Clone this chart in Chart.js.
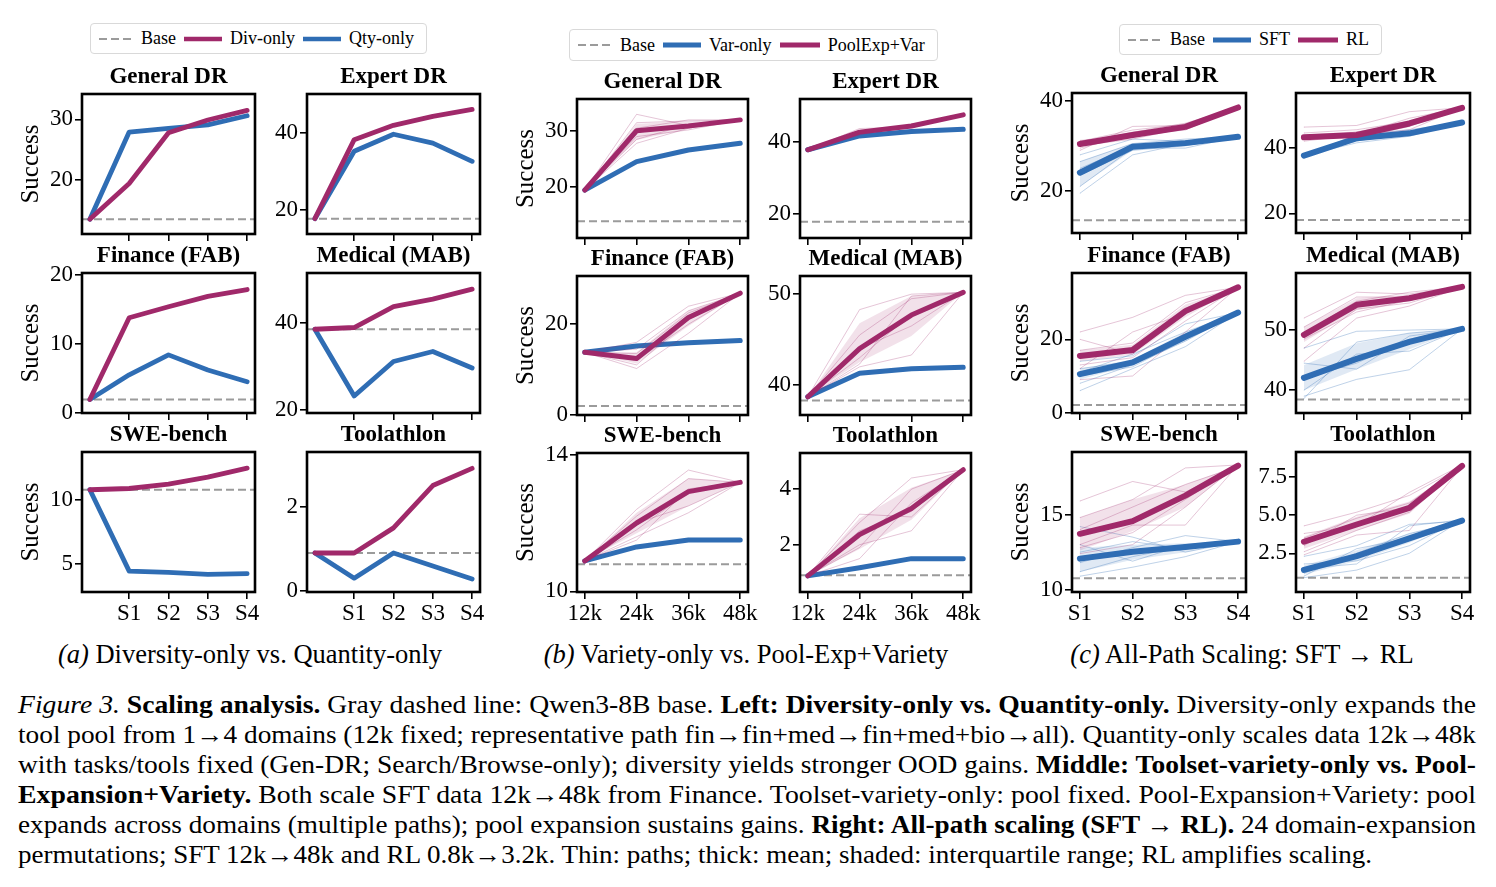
<!DOCTYPE html>
<html>
<head>
<meta charset="utf-8">
<script src="https://cdn.jsdelivr.net/npm/chart.js@4.4.1/dist/chart.umd.min.js"></script>
<style>
  body { margin: 0; background: #fff; }
  #fig { position: relative; width: 1496px; height: 887px; overflow: hidden; font-family: 'Liberation Serif', 'Times New Roman', serif; color: #000; }
  #fig canvas { position: absolute; }
  .legend { position: absolute; display: flex; align-items: center; background: #fff; border: 1px solid #d9d9d9; border-radius: 4px; font-size: 18px; padding: 0 6px; box-sizing: border-box; white-space: nowrap; }
  .legend svg { margin: 0 8px 0 2px; }
  .legend span { margin-right: 6px; }
  .sub { position: absolute; font-size: 26.5px; transform: translateX(-50%); white-space: nowrap; }
  .cap { position: absolute; left: 18px; font-size: 25px; line-height: 30px; white-space: nowrap; transform-origin: 0 0; }
</style>
</head>
<body>
<div id="fig">
  <div class="legend" style="left:90px;top:23px;height:31px">
    <svg width="34" height="8"><line x1="0" y1="4" x2="34" y2="4" stroke="#9b9b9b" stroke-width="2" stroke-dasharray="8 4"/></svg><span>Base</span>
    <svg width="38" height="8"><line x1="0" y1="4" x2="38" y2="4" stroke="#a0296a" stroke-width="4.5"/></svg><span>Div-only</span>
    <svg width="38" height="8"><line x1="0" y1="4" x2="38" y2="4" stroke="#2f6db4" stroke-width="4.5"/></svg><span>Qty-only</span>
  </div>
  <div class="legend" style="left:569px;top:29px;height:32px">
    <svg width="34" height="8"><line x1="0" y1="4" x2="34" y2="4" stroke="#9b9b9b" stroke-width="2" stroke-dasharray="8 4"/></svg><span>Base</span>
    <svg width="38" height="8"><line x1="0" y1="4" x2="38" y2="4" stroke="#2f6db4" stroke-width="5"/></svg><span>Var-only</span>
    <svg width="40" height="8"><line x1="0" y1="4" x2="40" y2="4" stroke="#a0296a" stroke-width="5"/></svg><span>PoolExp+Var</span>
  </div>
  <div class="legend" style="left:1119px;top:24px;height:31px">
    <svg width="34" height="8"><line x1="0" y1="4" x2="34" y2="4" stroke="#9b9b9b" stroke-width="2" stroke-dasharray="8 4"/></svg><span>Base</span>
    <svg width="38" height="8"><line x1="0" y1="4" x2="38" y2="4" stroke="#2f6db4" stroke-width="5"/></svg><span>SFT</span>
    <svg width="40" height="8"><line x1="0" y1="4" x2="40" y2="4" stroke="#a0296a" stroke-width="5"/></svg><span>RL</span>
  </div>

  <div class="sub" style="left:250px;top:639px"><i>(a)</i> Diversity-only vs. Quantity-only</div>
  <div class="sub" style="left:746px;top:639px"><i>(b)</i> Variety-only vs. Pool-Exp+Variety</div>
  <div class="sub" style="left:1242px;top:639px"><i>(c)</i> All-Path Scaling: SFT &rarr; RL</div>

  <div class="cap" data-w="1458" style="top:690px"><i>Figure 3.</i> <b>Scaling analysis.</b> Gray dashed line: Qwen3-8B base. <b>Left: Diversity-only vs. Quantity-only.</b> Diversity-only expands the</div>
  <div class="cap" data-w="1458" style="top:720px">tool pool from 1&rarr;4 domains (12k fixed; representative path fin&rarr;fin+med&rarr;fin+med+bio&rarr;all). Quantity-only scales data 12k&rarr;48k</div>
  <div class="cap" data-w="1458" style="top:750px">with tasks/tools fixed (Gen-DR; Search/Browse-only); diversity yields stronger OOD gains. <b>Middle: Toolset-variety-only vs. Pool-</b></div>
  <div class="cap" data-w="1458" style="top:780px"><b>Expansion+Variety.</b> Both scale SFT data 12k&rarr;48k from Finance. Toolset-variety-only: pool fixed. Pool-Expansion+Variety: pool</div>
  <div class="cap" data-w="1458" style="top:810px">expands across domains (multiple paths); pool expansion sustains gains. <b>Right: All-path scaling (SFT &rarr; RL).</b> 24 domain-expansion</div>
  <div class="cap" data-w="1354" style="top:840px">permutations; SFT 12k&rarr;48k and RL 0.8k&rarr;3.2k. Thin: paths; thick: mean; shaded: interquartile range; RL amplifies scaling.</div>
</div>

<script>
'use strict'

// ---- data ----
const panelTitles = ['General DR', 'Expert DR', 'Finance (FAB)', 'Medical (MAB)', 'SWE-bench', 'Toolathlon'];
const stepLabels = ['S1', 'S2', 'S3', 'S4'];
const sizeLabels = ['12k', '24k', '36k', '48k'];

// (a) diversity-only vs quantity-only, first point = base model
const aBase = [13.5, 17.8, 1.9, 38.5, 10.8, 0.9];
const aDivOnly = [
  [13.5, 19.4, 27.8, 29.9, 31.5],
  [17.8, 38.2, 41.9, 44.2, 46.0],
  [1.9, 13.8, 15.4, 16.9, 17.9],
  [38.5, 38.9, 43.7, 45.4, 47.7],
  [10.8, 10.9, 11.25, 11.8, 12.5],
  [0.9, 0.9, 1.5, 2.51, 2.92]
];
const aQtyOnly = [
  [13.5, 27.9, 28.5, 29.1, 30.6],
  [17.8, 35.2, 39.6, 37.3, 32.6],
  [1.9, 5.5, 8.4, 6.2, 4.5],
  [38.5, 23.2, 31.1, 33.4, 29.6],
  [10.8, 4.4, 4.3, 4.15, 4.2],
  [0.9, 0.3, 0.9, 0.59, 0.28]
];
const aYTicks = [[20, 30], [20, 40], [0, 10, 20], [20, 40], [5, 10], [0, 2]];

// (b) variety-only vs pool expansion + variety
const bBase = [13.8, 17.9, 1.9, 38.3, 10.79, 0.9];
const bVarOnly = [
  [19.4, 24.5, 26.6, 27.8],
  [37.9, 41.75, 42.95, 43.6],
  [13.8, 15.2, 15.9, 16.4],
  [38.7, 41.3, 41.8, 41.95],
  [10.89, 11.3, 11.5, 11.5],
  [0.88, 1.17, 1.5, 1.5]
];
const bPoolMean = [
  [19.4, 30.05, 30.9, 32.0],
  [37.9, 42.8, 44.5, 47.6],
  [13.8, 12.4, 21.5, 26.9],
  [38.7, 44.0, 47.7, 50.2],
  [10.89, 12.0, 12.92, 13.19],
  [0.88, 2.37, 3.3, 4.7]
];
const bPoolLo = [
  [19.4, 28.4, 30.4, 32.0],
  [37.9, 42.3, 44.1, 47.6],
  [13.8, 11.3, 19.6, 26.9],
  [38.7, 42.5, 45.4, 50.2],
  [10.89, 11.7, 12.5, 13.19],
  [0.88, 1.85, 2.9, 4.7]
];
const bPoolHi = [
  [19.4, 31.3, 31.7, 32.0],
  [37.9, 43.4, 44.9, 47.6],
  [13.8, 13.8, 23.0, 26.9],
  [38.7, 46.8, 49.8, 50.2],
  [10.89, 12.3, 13.3, 13.19],
  [0.88, 2.95, 4.05, 4.7]
];
const bPoolPaths = [
  [[19.4, 33.0, 31.0, 32.0], [19.4, 31.5, 31.8, 32.0], [19.4, 30.5, 32.0, 32.0], [19.4, 29.0, 30.2, 32.0], [19.4, 27.8, 30.5, 32.0], [19.4, 28.5, 31.2, 32.0]],
  [[37.9, 43.8, 44.2, 47.6], [37.9, 42.0, 45.0, 47.6], [37.9, 43.0, 44.8, 47.6], [37.9, 42.5, 44.0, 47.6]],
  [[13.8, 16.0, 24.0, 26.9], [13.8, 13.5, 22.5, 26.9], [13.8, 12.0, 20.0, 26.9], [13.8, 10.2, 18.0, 26.9], [13.8, 11.0, 21.0, 26.9], [13.8, 14.5, 23.0, 26.9]],
  [[38.7, 48.3, 50.0, 50.2], [38.7, 45.5, 49.5, 50.2], [38.7, 42.3, 49.8, 50.2], [38.7, 42.0, 43.3, 50.2], [38.7, 44.0, 46.5, 50.2], [38.7, 43.0, 47.8, 50.2]],
  [[10.89, 12.4, 13.55, 13.19], [10.89, 12.2, 13.3, 13.19], [10.89, 11.8, 12.9, 13.19], [10.89, 11.6, 12.3, 13.19], [10.89, 12.0, 12.5, 13.19], [10.89, 11.5, 13.0, 13.19]],
  [[0.88, 3.1, 3.0, 4.7], [0.88, 2.8, 4.4, 4.7], [0.88, 1.5, 3.5, 4.7], [0.88, 2.0, 2.5, 4.7], [0.88, 2.5, 3.2, 4.7], [0.88, 1.9, 4.0, 4.7]]
];
const bYTicks = [[20, 30], [20, 40], [0, 20], [40, 50], [10, 14], [2, 4]];

// (c) all-path scaling, SFT -> RL
const cBase = [13.5, 17.95, 2.1, 38.45, 10.77, 0.9];
const cSftMean = [
  [24.05, 29.8, 30.6, 32.0],
  [37.6, 42.9, 44.4, 47.7],
  [10.5, 13.7, 20.7, 27.3],
  [42.05, 45.2, 48.05, 50.2],
  [12.07, 12.53, 12.84, 13.2],
  [1.41, 2.32, 3.48, 4.65]
];
const cRlMean = [
  [30.4, 32.4, 34.2, 38.5],
  [43.2, 43.9, 47.4, 52.2],
  [15.45, 17.1, 27.7, 34.2],
  [49.2, 54.2, 55.3, 57.2],
  [13.72, 14.56, 16.26, 18.26],
  [3.26, 4.39, 5.48, 8.24]
];
const cSftLo = [
  [21.0, 29.0, 30.0, 32.0],
  [37.6, 42.3, 44.0, 47.7],
  [9.0, 13.0, 19.5, 27.3],
  [40.0, 43.5, 46.8, 50.2],
  [11.2, 12.0, 12.5, 13.2],
  [1.1, 2.0, 3.2, 4.65]
];
const cSftHi = [
  [26.5, 30.6, 31.2, 32.0],
  [37.6, 43.5, 45.0, 47.7],
  [12.0, 14.5, 22.0, 27.3],
  [44.2, 47.8, 49.5, 50.2],
  [12.8, 13.0, 13.1, 13.2],
  [1.7, 2.7, 3.8, 4.65]
];
const cRlLo = [
  [29.8, 31.8, 33.8, 38.5],
  [42.7, 43.5, 46.5, 52.2],
  [14.0, 15.8, 26.0, 34.2],
  [48.0, 53.3, 54.8, 57.2],
  [12.6, 13.9, 15.5, 18.26],
  [2.8, 4.0, 5.1, 8.24]
];
const cRlHi = [
  [31.0, 33.2, 34.6, 38.5],
  [44.0, 45.0, 48.5, 52.2],
  [17.0, 18.5, 29.5, 34.2],
  [50.5, 55.3, 55.9, 57.2],
  [14.8, 16.0, 17.0, 18.26],
  [3.6, 4.9, 5.9, 8.24]
];
const cSftPaths = [
  [[19.5, 28.0, 30.5, 32.0], [21.0, 29.5, 29.5, 32.0], [26.5, 30.5, 31.5, 32.0], [28.0, 31.5, 31.0, 32.0], [23.5, 29.0, 30.0, 32.0], [25.0, 30.0, 31.2, 32.0]],
  [[37.6, 41.5, 43.5, 47.7], [37.6, 44.0, 45.5, 47.7], [37.6, 42.5, 44.8, 47.7], [37.6, 43.5, 44.0, 47.7], [37.6, 42.0, 45.0, 47.7], [37.6, 43.2, 43.8, 47.7]],
  [[6.0, 12.0, 18.0, 27.3], [14.0, 15.5, 24.2, 27.3], [12.0, 14.0, 21.5, 27.3], [8.0, 13.0, 19.5, 27.3], [11.0, 16.0, 22.0, 27.3], [10.0, 12.5, 20.0, 27.3]],
  [[47.0, 49.8, 50.0, 50.2], [39.0, 41.8, 43.4, 50.2], [38.6, 48.0, 49.5, 50.2], [44.5, 43.5, 49.0, 50.2], [40.0, 46.0, 46.5, 50.2], [42.0, 44.5, 48.5, 50.2]],
  [[14.2, 13.5, 12.5, 13.2], [10.9, 11.5, 12.2, 13.2], [11.8, 12.8, 13.6, 13.2], [13.0, 11.9, 13.0, 13.2], [11.2, 12.2, 12.9, 13.2], [12.5, 13.2, 12.7, 13.2]],
  [[2.3, 3.0, 4.4, 4.6], [0.9, 1.4, 2.5, 4.7], [1.2, 2.5, 3.8, 4.6], [1.8, 2.0, 3.0, 4.7], [1.0, 2.8, 3.5, 4.6], [1.5, 1.8, 4.3, 4.7]]
];
const cRlPaths = [
  [[29.0, 34.3, 34.5, 38.5], [30.5, 33.0, 35.0, 38.5], [31.2, 32.0, 33.8, 38.5], [30.0, 31.5, 34.0, 38.5], [29.5, 32.5, 33.5, 38.5], [31.0, 33.5, 34.8, 38.5]],
  [[46.3, 46.8, 51.0, 52.2], [42.0, 44.0, 49.0, 52.2], [43.5, 43.0, 46.5, 52.2], [44.5, 45.5, 48.0, 52.2], [42.5, 43.5, 45.5, 52.2], [43.0, 44.8, 47.5, 52.2]],
  [[22.0, 26.0, 32.0, 34.2], [9.0, 10.0, 22.0, 34.2], [17.0, 19.0, 30.0, 34.2], [13.0, 15.0, 25.0, 34.2], [20.0, 16.0, 28.5, 34.2], [12.0, 22.0, 27.0, 34.2]],
  [[52.0, 56.3, 56.0, 57.2], [44.8, 52.0, 54.0, 57.2], [50.5, 55.5, 55.5, 57.2], [47.0, 53.5, 54.5, 57.2], [49.5, 54.8, 56.3, 57.2], [48.5, 53.0, 55.0, 57.2]],
  [[15.9, 17.2, 16.5, 18.2], [12.4, 13.0, 15.5, 18.3], [14.8, 16.0, 18.1, 18.3], [13.0, 14.3, 14.3, 18.3], [14.0, 15.5, 17.0, 18.2], [12.8, 13.8, 16.0, 18.3]],
  [[4.3, 5.2, 6.3, 8.2], [2.4, 3.7, 4.0, 8.2], [3.5, 4.8, 5.8, 8.3], [2.6, 4.0, 5.2, 8.2], [3.8, 4.3, 6.5, 8.3], [3.0, 5.0, 5.5, 8.2]]
];
const cYTicks = [[20, 40], [20, 40], [0, 20], [40, 50], [10, 15], [2.5, 5, 7.5]];

// ---- axis limits and layout ----
const aYRange = [[11.05, 34.2], [13.84, 50], [-0.05, 20.3], [19.3, 51.4], [2.76, 13.77], [-0.03, 3.31]];
const bYRange = [[10.8, 35.75], [13.4, 52.0], [-0.1, 30.7], [36.7, 52.0], [9.98, 14.05], [0.3, 5.3]];
const cYRange = [[10.7, 41.7], [14.0, 56.7], [-0.1, 38.1], [36.2, 59.5], [9.85, 19.16], [-0.04, 9.15]];

const BLUE = '#2f6db4';
const MAGENTA = '#a0296a';
const GRAY = '#9b9b9b';
const BLUE_THIN = 'rgba(47,109,180,0.35)';
const MAG_THIN = 'rgba(160,41,106,0.3)';
const BLUE_FILL = 'rgba(47,109,180,0.15)';
const MAG_FILL = 'rgba(160,41,106,0.14)';
const FONT = "'Liberation Serif', 'Times New Roman', serif";

const TICK_SIZE = 23, TITLE_SIZE = 23;
const YW = 70, PR = 20, XH = 40, TP = 3.4, TITLE_H = TITLE_SIZE * 1.2 + TP;

const framePlugin = {
  id: 'frame',
  afterDatasetsDraw(chart) {
    const { ctx, chartArea } = chart;
    ctx.save();
    ctx.strokeStyle = '#000';
    ctx.lineWidth = 2.6;
    ctx.strokeRect(chartArea.left, chartArea.top, chartArea.right - chartArea.left, chartArea.bottom - chartArea.top);
    ctx.restore();
  }
};

const line = (xs, ys, color, width, extra) => Object.assign({
  data: xs.map((x, i) => ({ x: x, y: ys[i] })),
  borderColor: color,
  borderWidth: width,
  pointRadius: 0,
  fill: false,
  borderJoinStyle: 'round',
  borderCapStyle: 'round'
}, extra || {});

const baseLine = (xMin, xMax, v) => line([xMin, xMax], [v, v], GRAY, 2, { borderDash: [8, 4], borderCapStyle: 'butt' });

const band = (xs, lo, hi, fillColor) => [
  line(xs, lo, 'rgba(0,0,0,0)', 0),
  line(xs, hi, 'rgba(0,0,0,0)', 0, { fill: '-1', backgroundColor: fillColor })
];

const fmt = (ticks) => ticks.map(v => ticks.some(t => !Number.isInteger(t)) ? v.toFixed(1) : String(v));

function makePanel(p) {
  const fig = document.getElementById('fig');
  const cv = document.createElement('canvas');
  const W = YW + p.w + PR;
  const H = Math.round(TITLE_H + p.h + XH);
  cv.width = W;
  cv.height = H;
  cv.style.left = (p.left - YW) + 'px';
  cv.style.top = (p.top - TITLE_H) + 'px';
  cv.style.width = W + 'px';
  cv.style.height = H + 'px';
  fig.appendChild(cv);

  const yLabels = fmt(p.yTicks);
  const datasets = p.datasets.map((d, i) => Object.assign(d, { order: -i }));

  new Chart(cv, {
    type: 'line',
    data: { datasets: datasets },
    options: {
      responsive: false,
      animation: false,
      devicePixelRatio: 1,
      layout: { padding: { left: 0, top: 0, right: PR, bottom: 0 } },
      plugins: {
        legend: { display: false },
        tooltip: { enabled: false },
        title: {
          display: true,
          text: p.title,
          color: '#000',
          fullSize: false,
          font: { family: FONT, size: TITLE_SIZE, weight: 'bold' },
          padding: { top: 0, bottom: TP }
        }
      },
      scales: {
        x: {
          type: 'linear',
          min: p.xMin,
          max: p.xMax,
          bounds: 'data',
          afterBuildTicks: (ax) => { ax.ticks = p.xTicks.map(v => ({ value: v })); },
          afterFit: (ax) => { ax.height = XH; },
          ticks: {
            display: p.showX,
            color: '#000',
            font: { family: FONT, size: TICK_SIZE },
            padding: 1,
            autoSkip: false,
            maxRotation: 0,
            callback: (v, i) => p.xLabels[i]
          },
          grid: { display: true, drawOnChartArea: false, drawTicks: true, tickLength: 7, color: '#000', lineWidth: 1.6 },
          border: { display: false }
        },
        y: {
          type: 'linear',
          min: p.yMin,
          max: p.yMax,
          bounds: 'data',
          afterBuildTicks: (ax) => { ax.ticks = p.yTicks.map(v => ({ value: v })); },
          afterFit: (ax) => { ax.width = YW; },
          ticks: {
            color: '#000',
            font: { family: FONT, size: TICK_SIZE },
            padding: 2,
            autoSkip: false,
            callback: (v, i) => yLabels[i]
          },
          grid: { display: true, drawOnChartArea: false, drawTicks: true, tickLength: 7, color: '#000', lineWidth: 1.6 },
          border: { display: false },
          title: {
            display: p.showY,
            text: 'Success',
            color: '#000',
            font: { family: FONT, size: 25 },
            padding: { top: 4, bottom: 0 }
          }
        }
      }
    },
    plugins: [framePlugin]
  });
}

// ---- build panels ----
const aCols = [82, 307], aRows = [94, 273, 452];
const bCols = [577, 800], bRows = [99, 276, 453];
const cCols = [1072, 1296], cRows = [93, 273, 452];
const xsA = [0, 1, 2, 3, 4];
const xs4 = [0, 1, 2, 3];

panelTitles.forEach((title, k) => {
  const col = k % 2, row = Math.floor(k / 2);
  const bottom = row === 2;

  // (a)
  makePanel({
    left: aCols[col], top: aRows[row], w: 173, h: 140, title: title,
    showY: col === 0, showX: bottom,
    xMin: -0.2, xMax: 4.2, xTicks: [1, 2, 3, 4], xLabels: stepLabels,
    yMin: aYRange[k][0], yMax: aYRange[k][1], yTicks: aYTicks[k],
    datasets: [
      baseLine(-0.2, 4.2, aBase[k]),
      line(xsA, aQtyOnly[k], BLUE, 4.8),
      line(xsA, aDivOnly[k], MAGENTA, 4.8)
    ]
  });

  // (b)
  makePanel({
    left: bCols[col], top: bRows[row], w: 171, h: 139, title: title,
    showY: col === 0, showX: bottom,
    xMin: -0.15, xMax: 3.15, xTicks: xs4, xLabels: sizeLabels,
    yMin: bYRange[k][0], yMax: bYRange[k][1], yTicks: bYTicks[k],
    datasets: [
      baseLine(-0.15, 3.15, bBase[k]),
      line(xs4, bVarOnly[k], BLUE, 5),
      ...bPoolPaths[k].map(pth => line(xs4, pth, MAG_THIN, 0.9)),
      ...band(xs4, bPoolLo[k], bPoolHi[k], MAG_FILL),
      line(xs4, bPoolMean[k], MAGENTA, 5)
    ]
  });

  // (c)
  makePanel({
    left: cCols[col], top: cRows[row], w: 174, h: 140, title: title,
    showY: col === 0, showX: bottom,
    xMin: -0.15, xMax: 3.15, xTicks: xs4, xLabels: stepLabels,
    yMin: cYRange[k][0], yMax: cYRange[k][1], yTicks: cYTicks[k],
    datasets: [
      baseLine(-0.15, 3.15, cBase[k]),
      ...cSftPaths[k].map(pth => line(xs4, pth, BLUE_THIN, 0.9)),
      ...band(xs4, cSftLo[k], cSftHi[k], BLUE_FILL),
      ...cRlPaths[k].map(pth => line(xs4, pth, MAG_THIN, 0.9)),
      ...band(xs4, cRlLo[k], cRlHi[k], MAG_FILL),
      line(xs4, cSftMean[k], BLUE, 6),
      line(xs4, cRlMean[k], MAGENTA, 6)
    ]
  });
});

// caption lines are stretched/condensed to the measured line widths
document.querySelectorAll('.cap').forEach(el => {
  const target = Number(el.dataset.w);
  const w = el.getBoundingClientRect().width;
  el.style.transform = 'scaleX(' + (target / w) + ')';
});
</script>
</body>
</html>
